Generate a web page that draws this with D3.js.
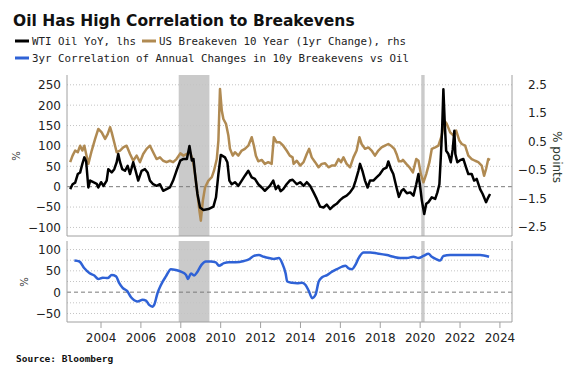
<!DOCTYPE html>
<html>
<head>
<meta charset="utf-8">
<script src="https://cdn.jsdelivr.net/npm/d3@7"></script>
<style>
  body { margin: 0; background: #fff; }
  svg { display: block; }
</style>
</head>
<body>
<svg id="chart" width="581" height="376"></svg>
<script>
// values (decimal year, value)
const wtiYoY = [
  [2002.48,-6],[2002.60,6],[2002.73,10],[2002.86,31],[2002.98,35],[2003.09,56],[2003.19,72],[2003.28,62],
  [2003.39,-2],[2003.48,15],[2003.64,11],[2003.81,7],[2003.89,-2],[2004.03,11],[2004.15,2],[2004.31,15],
  [2004.39,43],[2004.56,35],[2004.69,43],[2004.81,60],[2004.89,80],[2004.98,60],[2005.09,43],[2005.23,39],
  [2005.36,51],[2005.48,31],[2005.64,60],[2005.76,39],[2005.89,15],[2006.06,39],[2006.23,43],[2006.36,35],
  [2006.48,15],[2006.64,6],[2006.81,2],[2006.98,6],[2007.14,-10],[2007.31,-6],[2007.48,-2],[2007.64,15],
  [2007.81,39],[2008.00,64],[2008.16,68],[2008.33,68],[2008.46,100],[2008.58,64],[2008.66,68],[2008.74,31],
  [2008.86,-18],[2008.99,-51],[2009.16,-57],[2009.41,-55],[2009.66,-49],[2009.79,-26],[2009.91,31],[2010.03,78],
  [2010.24,72],[2010.36,60],[2010.46,15],[2010.58,6],[2010.74,11],[2010.91,2],[2011.08,15],[2011.24,27],
  [2011.41,39],[2011.58,23],[2011.74,19],[2011.91,6],[2012.08,-2],[2012.24,-10],[2012.49,2],[2012.66,15],
  [2012.79,-6],[2012.91,2],[2013.03,-11],[2013.16,-6],[2013.33,6],[2013.49,15],[2013.63,17],[2013.84,6],
  [2014.01,11],[2014.18,2],[2014.34,11],[2014.51,2],[2014.68,-14],[2014.84,-30],[2015.01,-49],[2015.18,-51],
  [2015.34,-44],[2015.51,-55],[2015.68,-47],[2015.84,-42],[2016.01,-33],[2016.18,-26],[2016.34,-22],[2016.51,-14],
  [2016.68,-2],[2016.79,15],[2016.93,39],[2017.01,56],[2017.13,39],[2017.26,15],[2017.39,-2],[2017.51,15],
  [2017.68,15],[2017.84,23],[2018.01,31],[2018.18,43],[2018.34,47],[2018.43,62],[2018.56,43],[2018.68,31],
  [2018.84,-2],[2018.96,-25],[2019.09,-10],[2019.19,-6],[2019.36,-16],[2019.53,-14],[2019.69,-22],[2019.83,6],
  [2019.94,31],[2020.03,-2],[2020.11,-34],[2020.23,-67],[2020.33,-42],[2020.44,-38],[2020.61,-26],[2020.78,-30],
  [2020.89,-14],[2020.99,6],[2021.06,72],[2021.13,145],[2021.19,239],[2021.26,154],[2021.33,88],[2021.44,80],
  [2021.56,60],[2021.66,92],[2021.74,137],[2021.79,80],[2021.89,60],[2022.03,65],[2022.19,68],[2022.33,47],
  [2022.44,31],[2022.61,31],[2022.73,15],[2022.86,19],[2023.03,-6],[2023.16,-18],[2023.33,-38],[2023.44,-26],
  [2023.53,-18]
];

const breakeven1y = [
  [2002.48,-0.23],[2002.60,0.00],[2002.73,0.18],[2002.86,0.12],[2002.98,0.35],[2003.09,0.18],[2003.19,0.35],
  [2003.28,0.06],[2003.39,-0.29],[2003.56,0.18],[2003.73,0.59],[2003.89,0.94],[2004.06,0.82],[2004.23,0.59],
  [2004.36,0.76],[2004.48,1.00],[2004.56,0.82],[2004.73,0.35],[2004.81,0.12],[2004.98,0.18],[2005.14,0.29],
  [2005.31,0.35],[2005.48,0.06],[2005.64,-0.18],[2005.81,0.00],[2005.98,-0.23],[2006.14,0.06],[2006.31,0.24],
  [2006.48,0.35],[2006.64,0.12],[2006.81,-0.12],[2006.98,-0.06],[2007.14,-0.18],[2007.31,-0.23],[2007.48,-0.18],
  [2007.64,-0.23],[2007.81,-0.12],[2008.00,0.08],[2008.16,0.00],[2008.33,0.06],[2008.49,0.12],[2008.63,-0.18],
  [2008.74,-0.65],[2008.86,-1.35],[2008.96,-1.94],[2009.03,-2.29],[2009.13,-1.59],[2009.24,-1.12],[2009.41,-0.88],
  [2009.58,-0.76],[2009.69,-0.53],[2009.83,-0.12],[2009.91,0.53],[2009.99,2.35],[2010.08,1.59],[2010.16,1.29],
  [2010.29,1.12],[2010.41,0.71],[2010.49,0.24],[2010.63,0.00],[2010.74,0.12],[2010.91,0.00],[2011.08,0.18],
  [2011.24,0.24],[2011.41,0.35],[2011.58,0.65],[2011.69,0.35],[2011.79,0.00],[2011.91,-0.20],[2012.08,-0.15],
  [2012.24,-0.29],[2012.41,-0.23],[2012.58,-0.29],[2012.69,0.65],[2012.83,0.47],[2012.99,0.47],[2013.16,0.35],
  [2013.33,0.18],[2013.49,0.00],[2013.63,-0.06],[2013.68,-0.29],[2013.84,-0.18],[2014.01,-0.35],[2014.18,-0.23],
  [2014.34,0.06],[2014.46,0.24],[2014.59,-0.06],[2014.76,-0.23],[2014.93,-0.41],[2015.09,-0.29],[2015.26,-0.27],
  [2015.43,-0.41],[2015.59,-0.35],[2015.76,-0.35],[2015.93,-0.12],[2016.06,-0.23],[2016.18,-0.06],[2016.34,-0.29],
  [2016.51,-0.41],[2016.68,-0.06],[2016.84,0.18],[2016.98,0.65],[2017.09,0.41],[2017.26,0.24],[2017.43,0.29],
  [2017.59,0.18],[2017.76,0.00],[2017.93,0.18],[2018.09,0.29],[2018.26,0.35],[2018.43,0.41],[2018.56,0.35],
  [2018.73,0.24],[2018.84,0.06],[2018.96,-0.20],[2019.09,-0.20],[2019.16,-0.15],[2019.33,-0.29],[2019.49,-0.41],
  [2019.66,-0.59],[2019.83,-0.12],[2019.94,-0.18],[2020.06,-0.65],[2020.19,-0.94],[2020.33,-0.65],[2020.49,-0.23],
  [2020.61,0.24],[2020.78,0.29],[2020.94,0.35],[2021.11,0.71],[2021.23,1.24],[2021.36,1.12],[2021.53,0.82],
  [2021.69,0.71],[2021.83,0.88],[2021.99,0.53],[2022.11,0.41],[2022.28,0.35],[2022.44,0.00],[2022.61,-0.12],
  [2022.78,-0.18],[2022.94,-0.23],[2023.11,-0.35],[2023.23,-0.71],[2023.33,-0.47],[2023.44,-0.12],[2023.53,-0.15]
];

const correlation3y = [
  [2002.69,74],[2002.94,72],[2003.19,56],[2003.44,45],[2003.69,39],[2003.89,31],[2004.11,34],[2004.36,33],
  [2004.56,40],[2004.78,37],[2004.94,21],[2005.11,10],[2005.33,3],[2005.53,-12],[2005.69,-19],[2005.86,-22],
  [2006.11,-18],[2006.28,-20],[2006.44,-30],[2006.61,-34],[2006.69,-30],[2006.86,-2],[2007.03,17],[2007.28,37],
  [2007.53,54],[2007.78,52],[2008.03,48],[2008.28,41],[2008.39,31],[2008.53,44],[2008.69,39],[2008.86,48],
  [2009.06,64],[2009.28,72],[2009.53,72],[2009.78,70],[2009.94,62],[2010.19,68],[2010.44,70],[2010.78,70],
  [2011.19,73],[2011.44,77],[2011.69,85],[2011.94,87],[2012.19,83],[2012.44,80],[2012.69,78],[2012.94,80],
  [2013.11,68],[2013.28,44],[2013.36,25],[2013.61,22],[2013.86,21],[2014.11,22],[2014.28,17],[2014.44,3],
  [2014.61,-14],[2014.78,-6],[2014.94,25],[2015.11,35],[2015.36,40],[2015.61,48],[2015.86,54],[2016.11,60],
  [2016.28,62],[2016.44,56],[2016.61,54],[2016.78,64],[2016.94,80],[2017.19,93],[2017.53,93],[2017.86,91],
  [2018.36,87],[2018.69,83],[2019.03,80],[2019.36,80],[2019.69,83],[2019.94,80],[2020.19,85],[2020.44,90],
  [2020.61,83],[2020.86,77],[2021.03,74],[2021.19,85],[2021.53,87],[2022.03,87],[2022.53,87],[2023.03,87],
  [2023.48,83]
];

const shaded = [[2007.92, 2009.46], [2020.08, 2020.25]];
const yearTicks = [2004, 2006, 2008, 2010, 2012, 2014, 2016, 2018, 2020, 2022, 2024];
const oilTicks = [-100, -50, 0, 50, 100, 150, 200, 250];
const beTicks = [-2.5, -1.5, -0.5, 0.5, 1.5, 2.5];
const corrTicks = [-50, 0, 50, 100];
const corrGrid = [-50, -25, 0, 25, 50, 75, 100];

const svg = d3.select("#chart");
const fontFamily = "'DejaVu Sans', Verdana, sans-serif";
const monoFamily = "'DejaVu Sans Mono', monospace";

const left = 67, right = 512;
const top1 = {top: 75, bottom: 236};
const top2 = {top: 241, bottom: 322};

const x = d3.scaleLinear().domain([2002.32, 2024.63]).range([left, right]);
const yOil = d3.scaleLinear().domain([-121, 274]).range([top1.bottom, top1.top]);
const yBe = d3.scaleLinear().domain([-2.83, 2.84]).range([top1.bottom, top1.top]);
const yCorr = d3.scaleLinear().domain([-70, 120]).range([top2.bottom, top2.top]);

// title + legend
svg.append("text").attr("x", 13).attr("y", 26)
  .attr("font-family", fontFamily).attr("font-weight", "bold").attr("font-size", 15.5)
  .attr("fill", "#111").text("Oil Has High Correlation to Breakevens");

const legend = [
  {x: 15, y: 41, color: "#000", label: "WTI Oil YoY, lhs"},
  {x: 142, y: 41, color: "#b08a52", label: "US Breakeven 10 Year (1yr Change), rhs"},
  {x: 15, y: 58, color: "#2f62d6", label: "3yr Correlation of Annual Changes in 10y Breakevens vs Oil"}
];
legend.forEach(d => {
  svg.append("line").attr("x1", d.x).attr("x2", d.x + 14).attr("y1", d.y).attr("y2", d.y)
    .attr("stroke", d.color).attr("stroke-width", 3);
  svg.append("text").attr("x", d.x + 17).attr("y", d.y + 4)
    .attr("font-family", monoFamily).attr("font-size", 10.8).attr("fill", "#222")
    .text(d.label);
});

// panel backgrounds: shading, grid
function panel(y, gridTicks, pTop, pBottom) {
  const g = svg.append("g");
  shaded.forEach(s => {
    g.append("rect").attr("x", x(s[0])).attr("width", x(s[1]) - x(s[0]))
      .attr("y", pTop).attr("height", pBottom - pTop).attr("fill", "#cacaca");
  });
  g.selectAll(".grid").data(gridTicks).join("line")
    .attr("x1", left).attr("x2", right)
    .attr("y1", d => y(d)).attr("y2", d => y(d))
    .attr("stroke", d => d === 0 ? "#7a7a7a" : "#c4c4c4")
    .attr("stroke-dasharray", d => d === 0 ? "4,3" : "1,2")
    .attr("stroke-width", 1);
  svg.append("path")
    .attr("d", `M${left},${pTop}V${pBottom}H${right}V${pTop}`)
    .attr("fill", "none").attr("stroke", "#a0a0a0");
}
panel(yOil, oilTicks, top1.top, top1.bottom);
panel(yCorr, corrGrid, top2.top, top2.bottom);

// axes
function labels(axis, tx) {
  const g = svg.append("g").attr("transform", `translate(${tx},0)`).call(axis);
  g.select(".domain").remove();
  g.selectAll("text").attr("font-family", fontFamily).attr("font-size", 12).attr("fill", "#222");
  return g;
}
labels(d3.axisLeft(yOil).tickValues(oilTicks).tickSize(0).tickPadding(6), left);
labels(d3.axisLeft(yBe).tickValues(beTicks).tickSize(0).tickPadding(0).tickFormat(d3.format(".1f")), 547);
labels(d3.axisLeft(yCorr).tickValues(corrTicks).tickSize(0).tickPadding(6), left);

const gx = svg.append("g").attr("transform", `translate(0,${top2.bottom})`)
  .call(d3.axisBottom(x).tickValues(yearTicks).tickFormat(d3.format("d")).tickSize(6).tickPadding(5));
gx.select(".domain").remove();
gx.selectAll("line").attr("stroke", "#a0a0a0");
gx.selectAll("text").attr("font-family", fontFamily).attr("font-size", 12).attr("fill", "#222");

// axis titles
svg.append("text").attr("transform", "translate(20,156) rotate(-90)")
  .attr("text-anchor", "middle").attr("font-family", fontFamily).attr("font-size", 10)
  .attr("fill", "#333").text("%");
svg.append("text").attr("transform", "translate(28,282) rotate(-90)")
  .attr("text-anchor", "middle").attr("font-family", fontFamily).attr("font-size", 10)
  .attr("fill", "#333").text("%");
svg.append("text").attr("transform", "translate(553,157) rotate(90)")
  .attr("text-anchor", "middle").attr("font-family", fontFamily).attr("font-size", 12)
  .attr("fill", "#2f3a30").text("% points");

// series
const beLine = d3.line().x(d => x(d[0])).y(d => yBe(d[1]));
const oilLine = d3.line().x(d => x(d[0])).y(d => yOil(d[1]));
const corrLine = d3.line().curve(d3.curveMonotoneX).x(d => x(d[0])).y(d => yCorr(d[1]));

svg.append("path").datum(breakeven1y).attr("d", beLine)
  .attr("fill", "none").attr("stroke", "#b08a52").attr("stroke-width", 2.5).attr("stroke-linejoin", "round");
svg.append("path").datum(wtiYoY).attr("d", oilLine)
  .attr("fill", "none").attr("stroke", "#000").attr("stroke-width", 2.5).attr("stroke-linejoin", "round");
svg.append("path").datum(correlation3y).attr("d", corrLine)
  .attr("fill", "none").attr("stroke", "#2f62d6").attr("stroke-width", 2.5).attr("stroke-linejoin", "round");

// source
svg.append("text").attr("x", 16).attr("y", 362)
  .attr("font-family", monoFamily).attr("font-weight", "bold").attr("font-size", 9.5)
  .attr("fill", "#111").text("Source: Bloomberg");
</script>
</body>
</html>
